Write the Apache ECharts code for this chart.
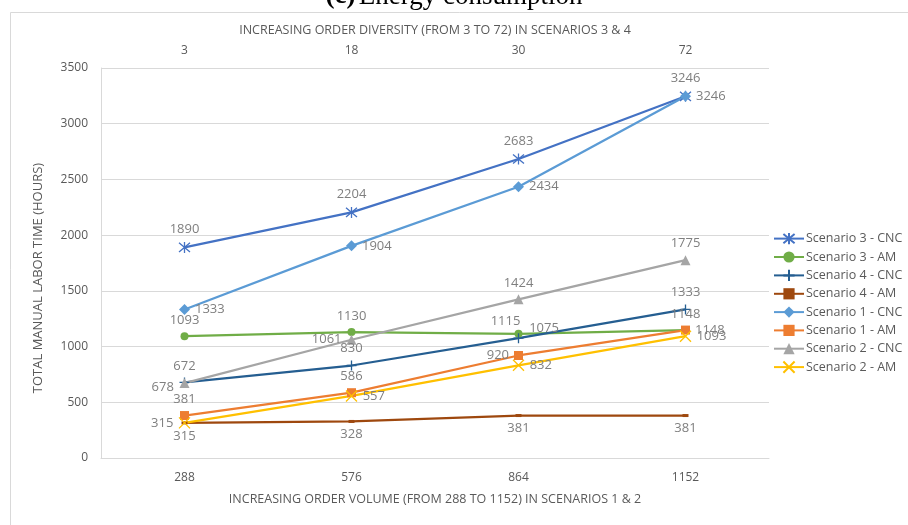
<!DOCTYPE html>
<html>
<head>
<meta charset="utf-8">
<script src="https://cdn.jsdelivr.net/npm/echarts@6/dist/echarts.min.js"></script>
<style>
  html, body { margin: 0; padding: 0; background: #fff; }
  #chart { width: 908px; height: 525px; }
</style>
</head>
<body>
<div id="chart"></div>
<script>
// Category labels
const orderVolumes = ['288', '576', '864', '1152'];
const orderDiversity = ['3', '18', '30', '72'];

// Total manual labor time (hours) per scenario
const scenario3Cnc = [1890, 2204, 2683, 3246];
const scenario3Am = [1093, 1130, 1115, 1148];
const scenario4Cnc = [678, 830, 1075, 1333];
const scenario4Am = [315, 328, 381, 381];
const scenario1Cnc = [1333, 1904, 2434, 3246];
const scenario1Am = [381, 586, 920, 1148];
const scenario2Cnc = [672, 1061, 1424, 1775];
const scenario2Am = [315, 557, 832, 1093];

const yTicks = { min: 0, max: 3500, interval: 500 };

const FONT = '"Open Sans", sans-serif';
const GRID_GREY = '#D9D9D9';
const TEXT_GREY = '#595959';
const LABEL_GREY = '#7F7F7F';

const P = {
  top: { position: 'top' },
  bottom: { position: 'bottom' },
  left: { position: 'left' },
  right: { position: 'right' },
  topLeft: { position: 'top', offset: [-13, 3] },
  leftLow: { position: 'left', offset: [0, 5] },
  rightHigh: { position: 'right', offset: [0, -10] }
};

const asterisk = 'path://M0,0L10,10M10,0L0,10M5,-1L5,11';
const plus = 'path://M5,0L5,10M0,5L10,5';
const cross = 'path://M0,0L10,10M10,0L0,10';

function makeSeries(name, values, color, symbol, symbolSize, placements, stroke) {
  return {
    name: name,
    type: 'line',
    xAxisIndex: 0,
    yAxisIndex: 0,
    data: values.map((v, i) => ({ value: v, label: placements[i] })),
    symbol: symbol,
    symbolSize: symbolSize,
    showAllSymbol: true,
    lineStyle: { color: color, width: 2.25 },
    itemStyle: stroke
      ? { color: color, borderColor: color, borderWidth: 1.3 }
      : { color: color, borderWidth: 0 },
    label: {
      show: true,
      color: LABEL_GREY,
      fontFamily: FONT,
      fontSize: 13,
      distance: 5
    },
    emphasis: { disabled: true },
    animation: false
  };
}

const series = [
  makeSeries('Scenario 3 - CNC', scenario3Cnc, '#4472C4', asterisk, 11, [P.top, P.top, P.top, P.top], true),
  makeSeries('Scenario 3 - AM', scenario3Am, '#70AD47', 'circle', 8, [P.top, P.top, P.topLeft, P.top], false),
  makeSeries('Scenario 4 - CNC', scenario4Cnc, '#255E91', plus, 10, [P.leftLow, P.top, P.rightHigh, P.top], true),
  makeSeries('Scenario 4 - AM', scenario4Am, '#9E480E', 'rect', [6, 3], [P.bottom, P.bottom, P.bottom, P.bottom], false),
  makeSeries('Scenario 1 - CNC', scenario1Cnc, '#5B9BD5', 'diamond', 11, [P.right, P.right, P.right, P.right], false),
  makeSeries('Scenario 1 - AM', scenario1Am, '#ED7D31', 'rect', 9, [P.top, P.top, P.left, P.right], false),
  makeSeries('Scenario 2 - CNC', scenario2Cnc, '#A5A5A5', 'triangle', 10, [P.top, P.left, P.top, P.top], false),
  makeSeries('Scenario 2 - AM', scenario2Am, '#FFC000', cross, 11, [P.left, P.right, P.right, P.right], true)
];

const chart = echarts.init(document.getElementById('chart'), null, { renderer: 'canvas' });

chart.setOption({
  backgroundColor: '#fff',
  animation: false,
  textStyle: { fontFamily: FONT },
  graphic: [
    {
      type: 'rect',
      silent: true,
      shape: { x: 10.5, y: 12.5, width: 1000, height: 1000 },
      style: { fill: 'none', stroke: GRID_GREY, lineWidth: 1 }
    },
    {
      type: 'text',
      silent: true,
      left: 'center',
      top: -17,
      style: {
        text: '{b|(c)} {n|Energy consumption}',
        rich: {
          b: { fontFamily: '"Liberation Serif", serif', fontSize: 27, fontWeight: 'bold', fill: '#000' },
          n: { fontFamily: '"Liberation Serif", serif', fontSize: 27, fontWeight: 'normal', fill: '#000' }
        }
      }
    }
  ],
  grid: { left: 101, right: 139, top: 68, bottom: 67, containLabel: false },
  legend: {
    orient: 'vertical',
    left: 773,
    top: 232,
    padding: 0,
    itemWidth: 30,
    itemHeight: 14,
    itemGap: 5.3,
    textStyle: { color: TEXT_GREY, fontFamily: FONT, fontSize: 12.5, padding: [0, 0, 0, -3] },
    data: series.map(s => s.name)
  },
  xAxis: [
    {
      type: 'category',
      position: 'bottom',
      data: orderVolumes,
      boundaryGap: true,
      axisLine: { show: true, lineStyle: { color: GRID_GREY, width: 1 } },
      axisTick: { show: false },
      axisLabel: { color: TEXT_GREY, fontSize: 12, margin: 14, fontFamily: FONT },
      name: 'INCREASING ORDER VOLUME (FROM 288 TO 1152) IN SCENARIOS 1 & 2',
      nameLocation: 'middle',
      nameGap: 35,
      nameTextStyle: { color: TEXT_GREY, fontSize: 12.5, fontFamily: FONT }
    },
    {
      type: 'category',
      position: 'top',
      data: orderDiversity,
      boundaryGap: true,
      axisLine: { show: false },
      axisTick: { show: false },
      axisLabel: { color: TEXT_GREY, fontSize: 12, margin: 11, fontFamily: FONT },
      name: 'INCREASING ORDER DIVERSITY (FROM 3 TO 72) IN SCENARIOS 3 & 4',
      nameLocation: 'middle',
      nameGap: 31,
      nameTextStyle: { color: TEXT_GREY, fontSize: 12.5, fontFamily: FONT }
    }
  ],
  yAxis: {
    type: 'value',
    min: yTicks.min,
    max: yTicks.max,
    interval: yTicks.interval,
    axisLine: { show: true, lineStyle: { color: GRID_GREY, width: 1 } },
    axisTick: { show: false },
    splitLine: { show: true, lineStyle: { color: GRID_GREY, width: 1 } },
    axisLabel: { color: TEXT_GREY, fontSize: 12, margin: 13, fontFamily: FONT, formatter: v => String(v) },
    name: 'TOTAL MANUAL LABOR TIME (HOURS)',
    nameLocation: 'middle',
    nameGap: 56,
    nameRotate: 90,
    nameTextStyle: { color: TEXT_GREY, fontSize: 13, fontFamily: FONT, padding: [0, 0, 0, -30] }
  },
  series: series
});
</script>
</body>
</html>
